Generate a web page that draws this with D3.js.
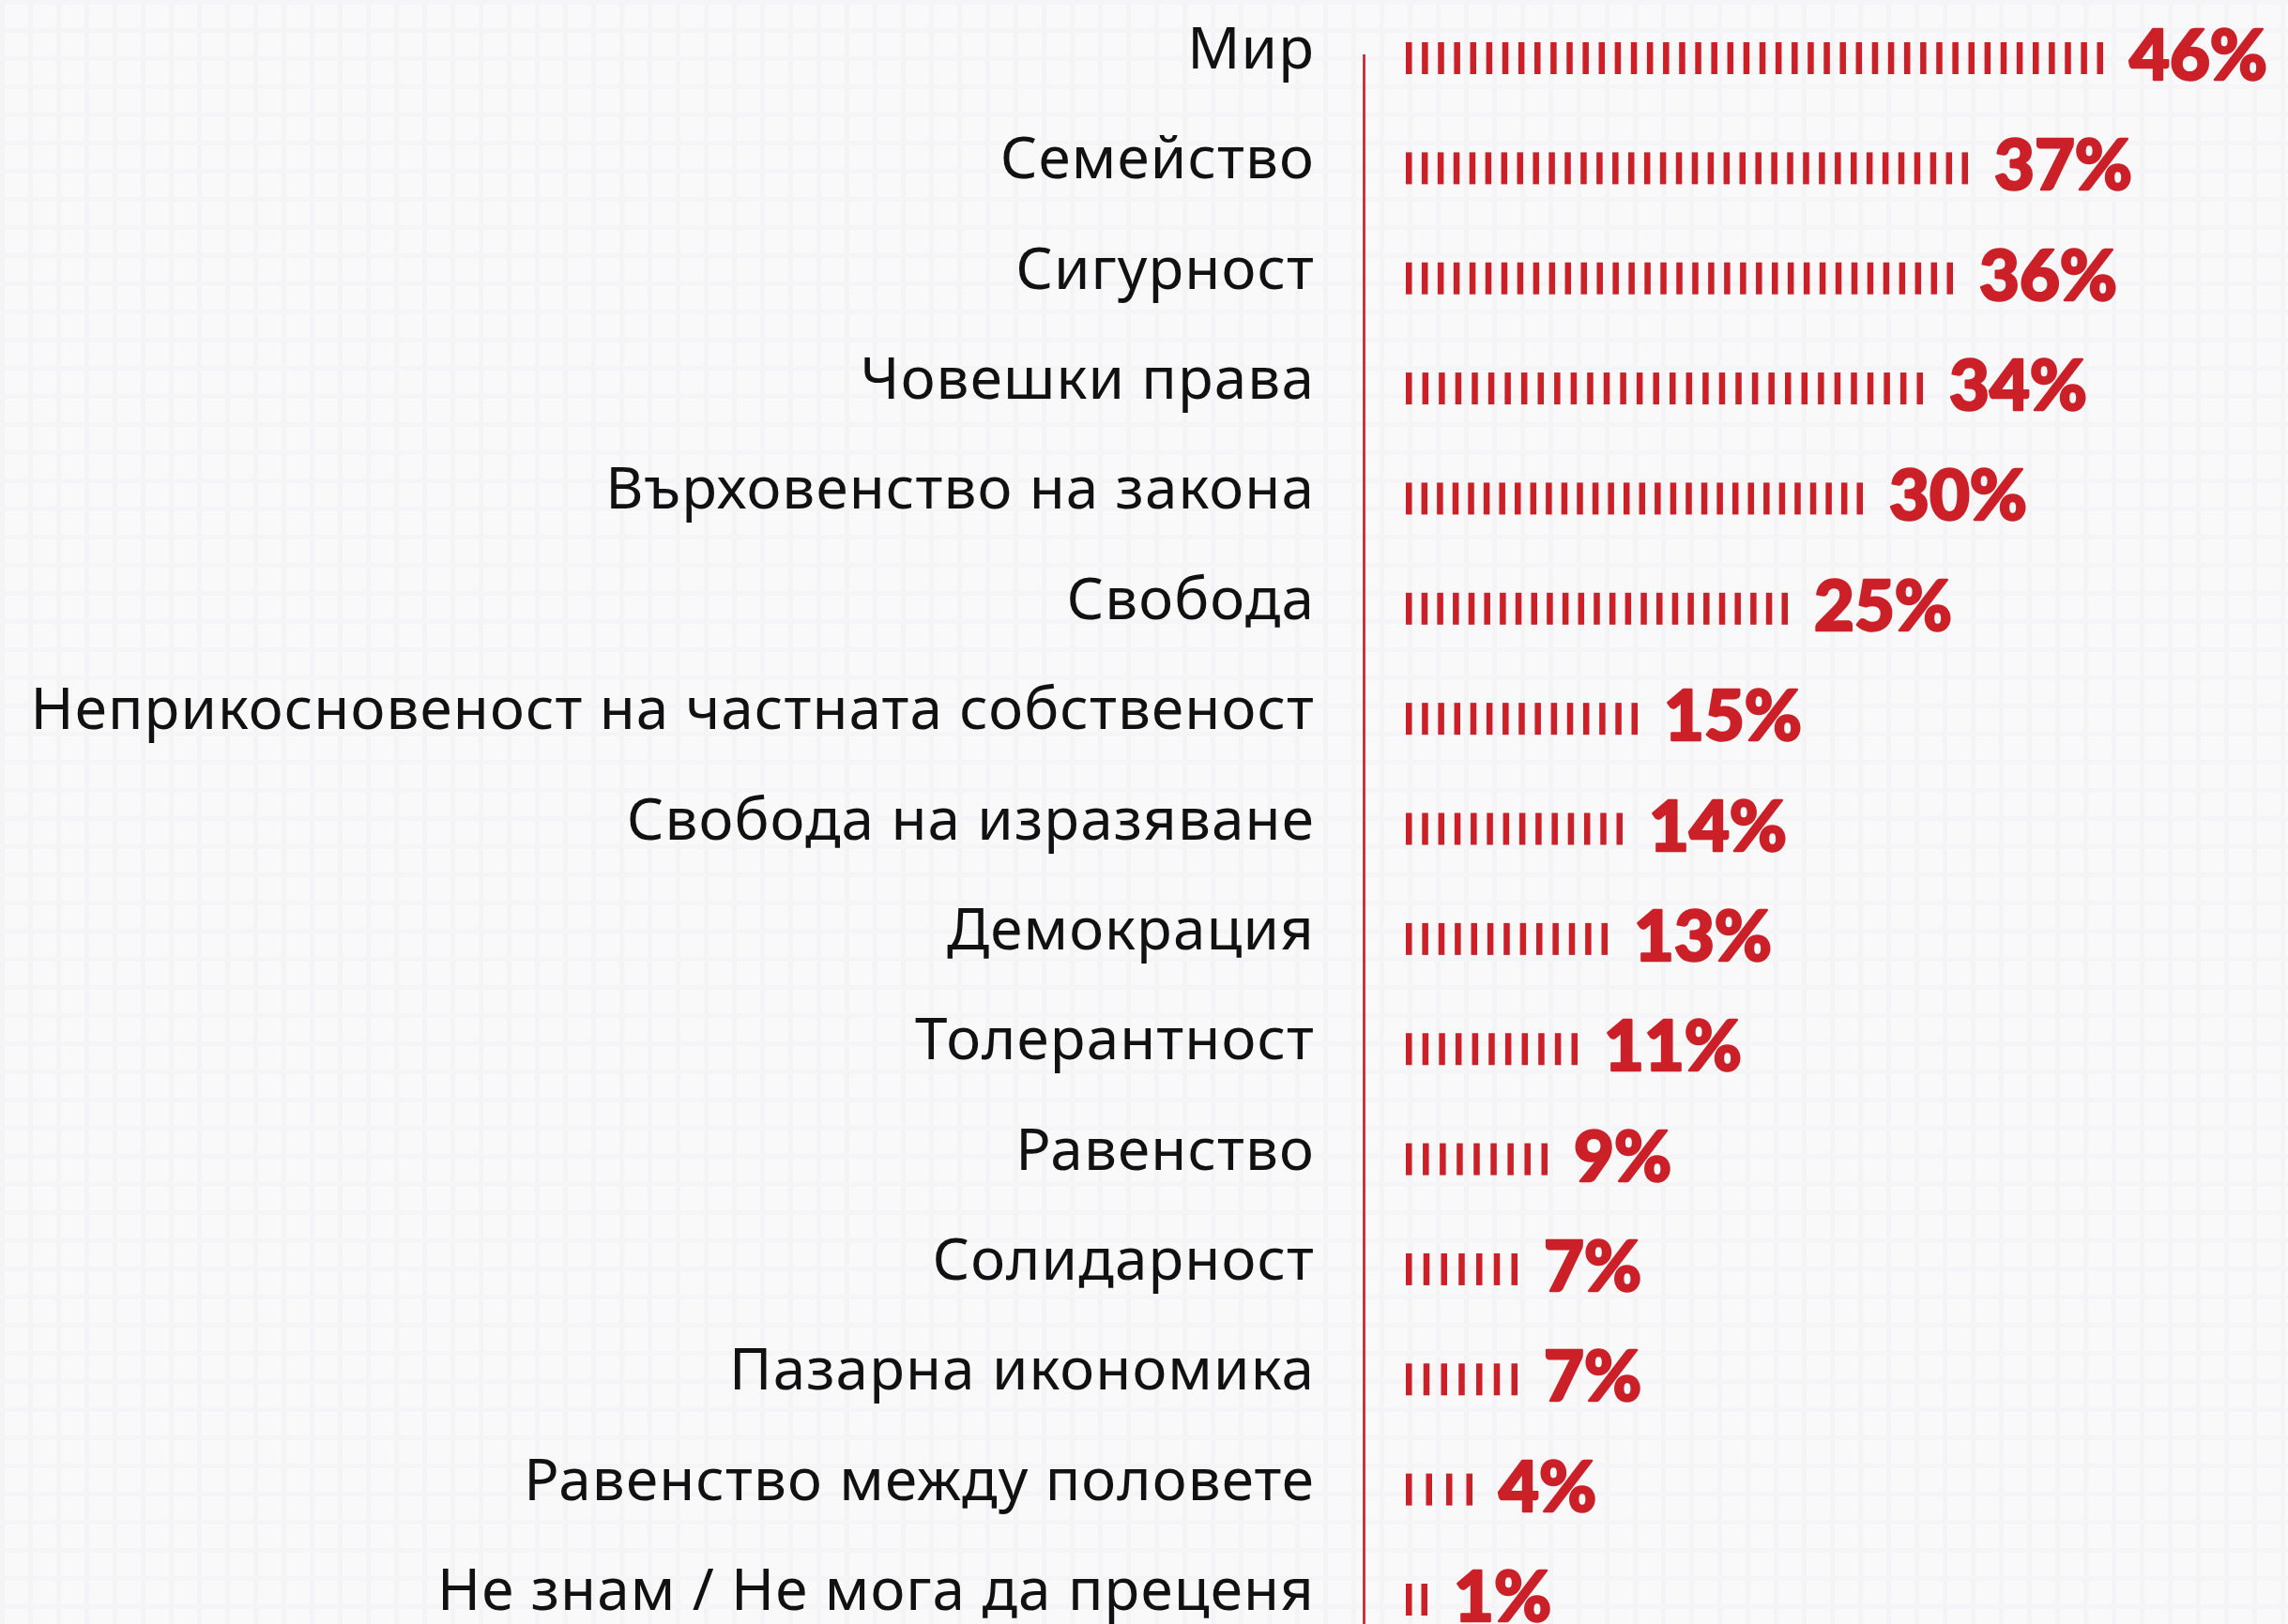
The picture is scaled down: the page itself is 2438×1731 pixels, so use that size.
<!DOCTYPE html>
<html lang="bg">
<head>
<meta charset="utf-8">
<script src="https://cdn.jsdelivr.net/npm/d3@7"></script>
<style>
  html, body { margin: 0; padding: 0; background: #f9f9fa; }
  svg { display: block; }
</style>
</head>
<body>
<script>
var width = 2438;
var height = 1731;

// data
var categories = [
    "Мир",
    "Семейство",
    "Сигурност",
    "Човешки права",
    "Върховенство на закона",
    "Свобода",
    "Неприкосновеност на частната собственост",
    "Свобода на изразяване",
    "Демокрация",
    "Толерантност",
    "Равенство",
    "Солидарност",
    "Пазарна икономика",
    "Равенство между половете",
    "Не знам / Не мога да преценя"
];
var values = [46, 37, 36, 34, 30, 25, 15, 14, 13, 11, 9, 7, 7, 4, 1];
var tickCounts = [44, 36, 35, 32, 30, 25, 15, 14, 13, 11, 9, 7, 7, 4, 2];

var red = "#cc2029";
var tick_w = 6.5;
var tick_h = 34;

var rows = categories.map(function(c, i) {
    return { name: c, value: values[i], ticks: tickCounts[i] };
});

var svg = d3.select("body")
    .append("svg")
    .attr("width", width)
    .attr("height", height);

// very faint grid paper background
var defs = svg.append("defs");
defs.append("filter")
    .attr("id", "soft")
    .append("feGaussianBlur")
    .attr("stdDeviation", 2);

var pat = defs.append("pattern")
    .attr("id", "grid")
    .attr("width", 30)
    .attr("height", 30)
    .attr("patternUnits", "userSpaceOnUse");
pat.append("rect").attr("width", 30).attr("height", 30).attr("fill", "#f9f9fa");
pat.append("rect").attr("x", 0).attr("y", 0).attr("width", 5).attr("height", 30).attr("fill", "#f4f4f7");
pat.append("rect").attr("x", 0).attr("y", 0).attr("width", 30).attr("height", 5).attr("fill", "#f5f5f7");

svg.append("rect")
    .attr("width", width)
    .attr("height", height)
    .attr("fill", "url(#grid)");

var y = d3.scalePoint()
    .domain(categories)
    .range([62, 1705]);

var x = d3.scaleLinear()
    .domain([0, 46])
    .range([1505, 2241]);

var x0 = 1498;

// axis line
svg.append("line")
    .attr("x1", 1453.5)
    .attr("x2", 1453.5)
    .attr("y1", 58)
    .attr("y2", height)
    .attr("stroke", red)
    .attr("stroke-width", 2.7);

// category labels
svg.append("g")
    .selectAll("text")
    .data(rows)
    .enter()
    .append("text")
    .attr("x", 1401)
    .attr("y", function(d) { return y(d.name) + 11; })
    .attr("text-anchor", "end")
    .attr("lang", "bg")
    .attr("font-family", "'Noto Sans', sans-serif")
    .attr("font-size", "62px")
    .attr("letter-spacing", "1.1px")
    .attr("fill", "#111")
    .text(function(d) { return d.name; });

// tick bars
var bars = svg.append("g")
    .selectAll("g")
    .data(rows)
    .enter()
    .append("g");

bars.selectAll("rect")
    .data(function(d) {
        var end = x(d.value) - tick_w;
        var step = (end - x0) / (d.ticks - 1);
        return d3.range(d.ticks).map(function(k) {
            return { x: x0 + k * step, cy: y(d.name) };
        });
    })
    .enter()
    .append("rect")
    .attr("x", function(d) { return d.x; })
    .attr("y", function(d) { return d.cy - tick_h / 2; })
    .attr("width", tick_w)
    .attr("height", tick_h)
    .attr("fill", red);

// value labels
svg.append("g")
    .selectAll("text")
    .data(rows)
    .enter()
    .append("text")
    .attr("x", function(d) { return x(d.value) + 28; })
    .attr("y", function(d) { return y(d.name) + 23; })
    .attr("font-family", "Lato, sans-serif")
    .attr("font-weight", 900)
    .attr("font-size", "74px")
    .attr("fill", red)
    .attr("stroke", red)
    .attr("stroke-width", 2.5)
    .attr("stroke-linejoin", "round")
    .text(function(d) { return d.value + "%"; });
</script>
</body>
</html>
